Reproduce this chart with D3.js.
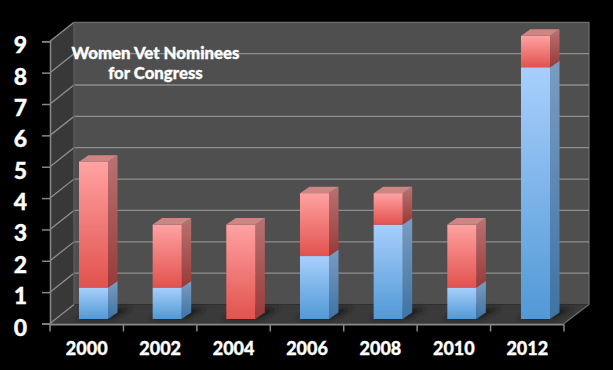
<!DOCTYPE html>
<html>
<head>
<meta charset="utf-8">
<script src="https://cdn.jsdelivr.net/npm/d3@7"></script>
<style>
html, body { margin: 0; padding: 0; background: #000; }
svg { display: block; }
text { font-family: Lato, "Liberation Sans", sans-serif; font-weight: 900; fill: #fff; stroke: #fff; stroke-width: 0.3px; }
</style>
</head>
<body>
<svg width="613" height="370"></svg>
<script>
const years = ["2000", "2002", "2004", "2006", "2008", "2010", "2012"];
const blueValues = [1, 1, 0, 2, 3, 1, 8];
const redValues = [4, 2, 3, 2, 1, 2, 1];
const yTicks = [0, 1, 2, 3, 4, 5, 6, 7, 8, 9];
const titleLines = ["Women Vet Nominees", "for Congress"];

const svg = d3.select("svg");
const area = { left: 50, right: 564, front: 323.5, top: 41.3, depthX: 24, depthY: 19 };
const barDepth = { x: 9.5, y: 6.5 };

const rows = years.map((y, i) => ({ year: y, blue: blueValues[i], red: redValues[i] }));
const series = d3.stack().keys(["blue", "red"])(rows);

// front of the wall, the back of the wall and the bars each sit at a different depth
const scY = d3.scaleLinear().domain([0, 9]).range([area.front, area.top]);
const scBar = d3.scaleLinear().domain([0, 9]).range([319, 35.8]);
const scAxisX = d3.scaleBand().domain(years).range([area.left, area.right]);
const scBarX = d3.scaleBand().domain(years).range([79, 550]).paddingInner(0.606).paddingOuter(0);

function poly(pts) {
    return "M" + pts.map(p => p.join(",")).join("L") + "Z";
}

function addGradient(defs, id, top, bottom) {
    const g = defs.append("linearGradient").attr("id", id)
        .attr("x1", 0).attr("y1", 0).attr("x2", 0).attr("y2", 1);
    g.append("stop").attr("offset", "0%").attr("stop-color", top);
    g.append("stop").attr("offset", "100%").attr("stop-color", bottom);
}

const defs = svg.append("defs");
addGradient(defs, "blueFront", "#a8cffc", "#5199d6");
addGradient(defs, "blueSide", "#7b9cc2", "#3d73a3");
addGradient(defs, "redFront", "#ffa2a2", "#e1524e");
addGradient(defs, "redSide", "#b97272", "#983a38");
defs.append("filter").attr("id", "soft")
    .attr("x", "-30%").attr("y", "-80%").attr("width", "160%").attr("height", "260%")
    .append("feGaussianBlur").attr("stdDeviation", 2.5);

// walls and floor
const y0 = scY(0), y9 = scY(9);
const dx = area.depthX, dy = area.depthY;
svg.append("path")
    .attr("d", poly([[area.left + dx, y9 - dy], [area.right + dx + 1, y9 - dy], [area.right + dx + 1, y0 - dy], [area.left + dx, y0 - dy]]))
    .attr("fill", "#4f4f4f");
svg.append("path")
    .attr("d", poly([[area.left, y9], [area.left + dx, y9 - dy], [area.left + dx, y0 - dy], [area.left, y0]]))
    .attr("fill", "#383838");
svg.append("path")
    .attr("d", poly([[area.left, y0], [area.right, y0], [area.right + dx + 1, y0 - dy], [area.left + dx, y0 - dy]]))
    .attr("fill", "#3a3a3a");

// wall outline and gridlines
svg.append("path")
    .attr("d", poly([[area.left + dx, y9 - dy], [area.right + dx + 1, y9 - dy], [area.right + dx + 1, y0 - dy], [area.right, y0]]).replace("Z", ""))
    .attr("fill", "none").attr("stroke", "#6e6e6e").attr("stroke-width", 1.2);

const grid = svg.append("g").attr("fill", "none").attr("stroke", "#8e8e8e").attr("stroke-width", 1.3);
yTicks.forEach(t => {
    grid.append("path")
        .attr("d", `M${area.left},${scY(t)}L${area.left + dx},${scY(t) - dy}L${t === 0 || t === 9 ? area.left + dx : area.right + dx + 1},${scY(t) - dy}`);
});
grid.append("line")
    .attr("x1", area.left + dx).attr("x2", area.left + dx)
    .attr("y1", y9 - dy).attr("y2", y0 - dy)
    .attr("stroke", "#5c5c5c");

// shadows on the floor
svg.append("g").selectAll("path").data(rows).enter().append("path")
    .attr("d", d => {
        const x = scBarX(d.year), w = scBarX.bandwidth();
        return poly([[x - 4, scBar(0)], [x + w + 4, scBar(0)], [x + w + 24, scBar(0) - 11], [x + 18, scBar(0) - 11]]);
    })
    .attr("fill", "#1e1e1e")
    .attr("filter", "url(#soft)");

// bars: side, then front, then the top of the highest segment
const bars = svg.append("g");
series.forEach(s => {
    const colour = s.key;
    const g = bars.append("g");
    g.selectAll(".side").data(s.filter(d => d[1] > d[0])).enter().append("path")
        .attr("class", "side")
        .attr("d", d => {
            const r = scBarX(d.data.year) + scBarX.bandwidth();
            return poly([[r, scBar(d[1])], [r + barDepth.x, scBar(d[1]) - barDepth.y], [r + barDepth.x, scBar(d[0]) - barDepth.y], [r, scBar(d[0])]]);
        })
        .attr("fill", `url(#${colour}Side)`);
    g.selectAll(".front").data(s.filter(d => d[1] > d[0])).enter().append("rect")
        .attr("class", "front")
        .attr("x", d => scBarX(d.data.year))
        .attr("y", d => scBar(d[1]))
        .attr("width", scBarX.bandwidth())
        .attr("height", d => scBar(d[0]) - scBar(d[1]))
        .attr("fill", `url(#${colour}Front)`);
});
bars.selectAll(".top").data(series[1]).enter().append("path")
    .attr("class", "top")
    .attr("d", d => {
        const x = scBarX(d.data.year), w = scBarX.bandwidth(), t = scBar(d[1]);
        return poly([[x, t], [x + w, t], [x + w + barDepth.x, t - barDepth.y], [x + barDepth.x, t - barDepth.y]]);
    })
    .attr("fill", "#d08585");

// axes
const axisY = d3.axisLeft(scY).tickValues(yTicks).tickSize(8).tickPadding(15).tickFormat(d3.format("d"));
const gY = svg.append("g").attr("transform", `translate(${area.left},0)`).call(axisY);
gY.selectAll("path").attr("stroke", "#888").attr("stroke-width", 1.5);
gY.selectAll("line").attr("stroke", "#888").attr("stroke-width", 1.5);
gY.selectAll("text").attr("font-size", 23).attr("dy", "0.5em").style("fill", "#fff");

const axisX = d3.axisBottom(scAxisX).tickSize(0).tickPadding(18);
const gX = svg.append("g").attr("transform", `translate(0,${y0 + 1})`).call(axisX);
gX.select("path").attr("stroke", "#888").attr("stroke-width", 2).attr("d", `M${area.left},0H${area.right}`);
gX.selectAll("text").attr("font-size", 18).style("fill", "#fff");
svg.append("g").selectAll("line")
    .data(years.concat(["end"])).enter().append("line")
    .attr("x1", (d, i) => d === "end" ? area.right : scAxisX(d))
    .attr("x2", (d, i) => d === "end" ? area.right : scAxisX(d))
    .attr("y1", y0 + 1).attr("y2", y0 + 8)
    .attr("stroke", "#888").attr("stroke-width", 1.5);

// title
svg.append("g").selectAll("text").data(titleLines).enter().append("text")
    .attr("x", 155.5)
    .attr("y", (d, i) => 58.5 + i * 20.5)
    .attr("text-anchor", "middle")
    .attr("font-size", 16.8)
    .text(d => d);
</script>
</body>
</html>
